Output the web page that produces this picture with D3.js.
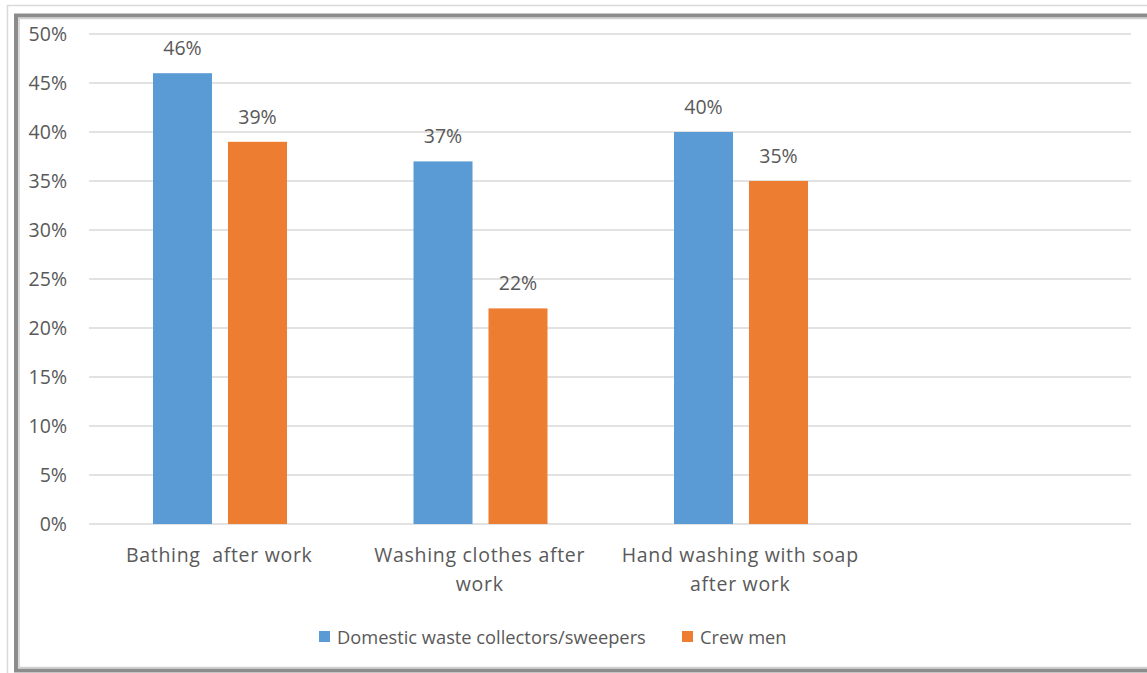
<!DOCTYPE html>
<html>
<head>
<meta charset="utf-8">
<script src="https://cdn.jsdelivr.net/npm/d3@7"></script>
<style>
  body { margin: 0; background: #fff; }
  text { font-family: "Open Sans", "Liberation Sans", sans-serif; fill: #595959; white-space: pre; }
</style>
</head>
<body>
<div id="chart"></div>
<script>
// Data
var categories = [["Bathing  after work"], ["Washing clothes after", "work"], ["Hand washing with soap", "after work"], [""]];
var seriesNames = ["Domestic waste collectors/sweepers", "Crew men"];
var collectors = [46, 37, 40, null];
var crewMen = [39, 22, 35, null];
var yTicks = [0, 5, 10, 15, 20, 25, 30, 35, 40, 45, 50];
var colors = ["#5B9BD5", "#ED7D31"];

var svgWidth = 1147, svgHeight = 673;
var margin = { top: 34, right: 16, bottom: 149, left: 89 };
var chartWidth = svgWidth - margin.left - margin.right;
var chartHeight = svgHeight - margin.top - margin.bottom;
var fontSize = "19.5px";

var svg = d3.select("#chart").append("svg")
    .attr("width", svgWidth)
    .attr("height", svgHeight);

// frame
svg.append("rect").attr("x", 7.5).attr("y", 5.5).attr("width", 1160).attr("height", 700)
    .attr("fill", "none").attr("stroke", "#d9d9d9").attr("stroke-width", 1.5);
svg.append("rect").attr("x", 16).attr("y", 15.5).attr("width", 1160).attr("height", 655)
    .attr("fill", "none").attr("stroke", "#8c8c8c").attr("stroke-width", 4);
svg.append("rect").attr("x", 19).attr("y", 18.5).attr("width", 1160).attr("height", 649)
    .attr("fill", "none").attr("stroke", "#d0d0d0").attr("stroke-width", 1.5);

var g = svg.append("g").attr("transform", `translate(${margin.left}, ${margin.top})`);

var x0 = d3.scaleBand().domain(d3.range(categories.length)).range([0, chartWidth]);
var x1 = d3.scaleBand().domain([0, 1]).range([64, 198]).paddingInner(0.213);
var y = d3.scaleLinear().domain([0, 50]).range([chartHeight, 0]);

// gridlines
g.append("g").selectAll("line").data(yTicks).join("line")
    .attr("x1", 0).attr("x2", 1042)
    .attr("y1", d => y(d)).attr("y2", d => y(d))
    .attr("stroke", "#d9d9d9").attr("stroke-width", 1.5);

// y axis labels
var yAxis = d3.axisLeft(y).tickValues(yTicks).tickFormat(d => d + "%").tickSize(0).tickPadding(22);
var ya = g.append("g").call(yAxis);
ya.select(".domain").remove();
ya.selectAll("text").style("font-size", fontSize).attr("fill", "#595959")
    .style("font-family", "'Open Sans', 'Liberation Sans', sans-serif");

// bars
var series = [collectors, crewMen];
series.forEach((vals, s) => {
    var data = vals.map((v, i) => ({ i: i, v: v })).filter(d => d.v !== null);
    g.append("g").selectAll("rect").data(data).join("rect")
        .attr("x", d => x0(d.i) + x1(s))
        .attr("y", d => y(d.v))
        .attr("width", x1.bandwidth())
        .attr("height", d => chartHeight - y(d.v))
        .attr("fill", colors[s]);
    g.append("g").selectAll("text").data(data).join("text")
        .attr("x", d => x0(d.i) + x1(s) + x1.bandwidth() / 2)
        .attr("y", d => y(d.v) - 18)
        .attr("text-anchor", "middle")
        .style("font-size", fontSize)
        .text(d => d.v + "%");
});

// category labels
categories.forEach((lines, i) => {
    lines.forEach((t, k) => {
        g.append("text")
            .attr("x", x0(i) + x0.bandwidth() / 2)
            .attr("y", chartHeight + 38 + k * 29)
            .attr("text-anchor", "middle")
            .style("font-size", fontSize)
            .style("letter-spacing", "0.7px")
            .text(t);
    });
});

// legend
var legendX = [319, 682];
seriesNames.forEach((name, s) => {
    svg.append("rect").attr("x", legendX[s]).attr("y", 631).attr("width", 11).attr("height", 11).attr("fill", colors[s]);
    svg.append("text").attr("x", legendX[s] + 18).attr("y", 644)
        .style("font-size", "18.3px")
        .text(name);
});
</script>
</body>
</html>
